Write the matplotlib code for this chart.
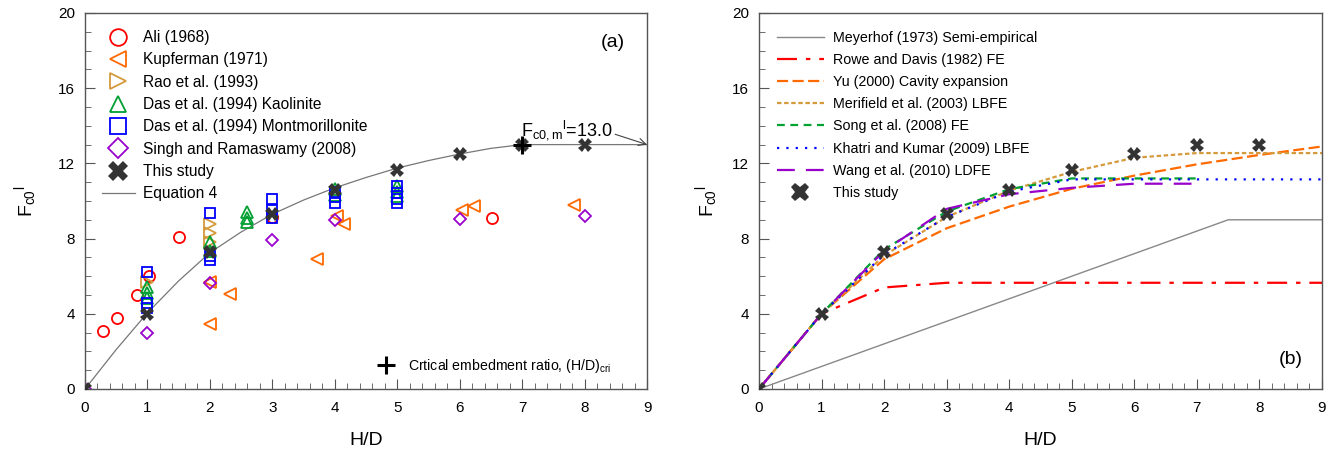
import matplotlib
matplotlib.use("Agg")
import matplotlib.pyplot as plt
from matplotlib.ticker import MultipleLocator
from matplotlib.lines import Line2D

plt.rcParams['font.family'] = ['Liberation Sans', 'DejaVu Sans']
plt.rcParams['mathtext.fontset'] = 'custom'
plt.rcParams['mathtext.rm'] = 'Liberation Sans'
plt.rcParams['mathtext.it'] = 'Liberation Sans'

# ---------------- data: panel (a) ----------------
ali_x = [0.29, 0.51, 0.83, 1.03, 1.51, 3.0, 6.52]
ali_y = [3.08, 3.8, 5.0, 6.0, 8.07, 9.16, 9.08]

kup_x = [2.0, 2.0, 2.32, 3.72, 4.03, 4.14, 6.04, 6.23, 7.83]
kup_y = [3.45, 5.7, 5.07, 6.9, 9.2, 8.76, 9.5, 9.73, 9.79]

rao_x = [1.0, 2.0, 2.0, 2.0]
rao_y = [5.7, 8.8, 8.3, 7.8]

dask_x = [1, 1, 1, 2, 2, 2.6, 2.6, 2.6, 4, 4, 5, 5, 5]
dask_y = [5.4, 5.1, 4.85, 7.8, 7.35, 9.4, 9.1, 8.9, 10.65, 10.3, 10.8, 10.5, 10.25]

dasm_x = [1, 1, 1, 2, 2, 2, 3, 3, 3, 4, 4, 4, 5, 5, 5, 5]
dasm_y = [6.2, 4.6, 4.3, 9.38, 7.1, 6.85, 10.1, 9.5, 9.1, 10.5, 10.2, 9.9, 10.8, 10.4, 10.1, 9.9]

singh_x = [0, 1, 2, 3, 4, 6, 8]
singh_y = [0, 3.0, 5.65, 7.95, 8.97, 9.05, 9.2]

study_x = [0, 1, 2, 3, 4, 5, 6, 7, 8]
study_y = [0, 4.0, 7.3, 9.3, 10.6, 11.65, 12.5, 13.0, 13.0]

eq4_x = [0, 0.5, 1, 1.5, 2, 2.5, 3, 3.5, 4, 4.5, 5, 5.5, 6, 6.5, 7, 8, 9]
eq4_y = [0, 2.1, 4.05, 5.75, 7.25, 8.35, 9.3, 10.05, 10.7, 11.25, 11.75, 12.15, 12.5, 12.8, 13.0, 13.0, 13.0]

crit_x = [7]
crit_y = [13.0]

# ---------------- data: panel (b) ----------------
hd = [0, 1, 2, 3, 4, 5, 6, 7, 8, 9]
meyer_x = [0, 7.5, 9]
meyer_y = [0, 9.0, 9.0]
rowe_y = [0, 4.0, 5.4, 5.65, 5.65, 5.65, 5.65, 5.65, 5.65, 5.65]
yu_y = [0, 4.0, 6.9, 8.55, 9.7, 10.65, 11.35, 11.95, 12.45, 12.9]
meri_y = [0, 4.0, 7.1, 9.15, 10.55, 11.55, 12.3, 12.55, 12.55, 12.55]
song_x = [0, 1, 2, 3, 4, 5, 6, 7]
song_y = [0, 4.0, 7.42, 9.44, 10.63, 11.2, 11.2, 11.2]
khatri_y = [0, 4.0, 7.15, 9.15, 10.5, 11.15, 11.15, 11.15, 11.15, 11.15]
wang_x = [0, 1, 2, 3, 4, 5, 6, 7]
wang_y = [0, 4.0, 7.35, 9.58, 10.36, 10.7, 10.92, 10.92]

W, H = 1338, 468
fig = plt.figure(figsize=(W / 100, H / 100), dpi=100)
axA = fig.add_axes([85 / W, 1 - 389 / H, 562 / W, 376 / H])
axB = fig.add_axes([759 / W, 1 - 389 / H, 563 / W, 376 / H])

def style(ax, ylabelpad):
    ax.set_xlim(0, 9)
    ax.set_ylim(0, 20)
    ax.xaxis.set_major_locator(MultipleLocator(1))
    ax.xaxis.set_minor_locator(MultipleLocator(0.2))
    ax.yaxis.set_major_locator(MultipleLocator(4))
    ax.yaxis.set_minor_locator(MultipleLocator(1))
    ax.tick_params(which='both', direction='in', top=False, right=False,
                   labelsize=11, color='#555555')
    ax.tick_params(which='major', length=7)
    ax.tick_params(axis='x', which='major', pad=9)
    ax.tick_params(axis='y', which='major', pad=7)
    ax.tick_params(which='minor', length=4)
    for s in ax.spines.values():
        s.set_color('#555555')
        s.set_linewidth(1.0)
    ax.set_xlabel('H/D', fontsize=14, labelpad=12)
    ax.set_ylabel(r'F$_{\mathrm{c0}}$$^{\mathrm{l}}$', fontsize=14, labelpad=ylabelpad)

style(axA, 14)
style(axB, 9)

# ---------- panel (a) ----------
ms = 8
mk = dict(linestyle='none', markerfacecolor='none', markeredgewidth=1.3, markersize=ms)
axA.plot(eq4_x, eq4_y, color='#777777', lw=0.9, zorder=2)
h_ali, = axA.plot(ali_x, ali_y, marker='o', color='#ff0000', **mk)
h_kup, = axA.plot(kup_x, kup_y, marker='<', color='#ff6a00', **mk)
h_rao, = axA.plot(rao_x, rao_y, marker='>', color='#d49a3c', **mk)
h_dk, = axA.plot(dask_x, dask_y, marker='^', color='#00a033', **mk)
h_dm, = axA.plot(dasm_x, dasm_y, marker='s', color='#0000ff',
                 linestyle='none', markerfacecolor='none', markeredgewidth=1.3, markersize=7.5)
h_si, = axA.plot(singh_x, singh_y, marker='D', color='#9900cc',
                 linestyle='none', markerfacecolor='none', markeredgewidth=1.3, markersize=6.5)
h_st, = axA.plot(study_x, study_y, marker='X', color='#333333', linestyle='none',
                 markersize=10, markeredgewidth=0, zorder=5)
h_cr, = axA.plot(crit_x, crit_y, marker='+', color='black', linestyle='none',
                 markersize=13, markeredgewidth=2.2, zorder=6)
h_eq = Line2D([], [], color='#777777', lw=0.9)

legA = axA.legend([h_ali, h_kup, h_rao, h_dk, h_dm, h_si, h_st, h_eq],
                  ['Ali (1968)', 'Kupferman (1971)', 'Rao et al. (1993)',
                   'Das et al. (1994) Kaolinite', 'Das et al. (1994) Montmorillonite',
                   'Singh and Ramaswamy (2008)', 'This study', 'Equation 4'],
                  loc='upper left', bbox_to_anchor=(0.0, 1.0), frameon=False,
                  fontsize=11.2, markerscale=1.5, handlelength=2.1,
                  labelspacing=0.47, handletextpad=0.55, borderaxespad=0.7)
axA.add_artist(legA)
axA.legend([h_cr], [r'Crtical embedment ratio, (H/D)$_{\mathrm{cri}}$'],
           loc='center right', bbox_to_anchor=(0.9475, 0.061), frameon=False,
           fontsize=10.2, handletextpad=0.6, borderaxespad=0)

axA.annotate(r'F$_{\mathrm{c0,m}}$$^{\mathrm{l}}$=13.0', xy=(9, 13.0), xytext=(6.98, 13.15),
             fontsize=13, ha='left', va='bottom',
             arrowprops=dict(arrowstyle='->', color='#444444', lw=0.8,
                             shrinkA=0, shrinkB=0, relpos=(1.0, 0.35)))
axA.text(0.96, 0.945, '(a)', transform=axA.transAxes, fontsize=14, ha='right', va='top')

# ---------- panel (b) ----------
axB.plot(meyer_x, meyer_y, color='#888888', lw=1.0, label='Meyerhof (1973) Semi-empirical')
axB.plot(hd, rowe_y, color='#ff0000', lw=1.6, dashes=(9, 4, 2, 4), label='Rowe and Davis (1982) FE')
axB.plot(hd, yu_y, color='#ff6a00', lw=1.6, dashes=(5, 2), label='Yu (2000) Cavity expansion')
axB.plot(hd, meri_y, color='#d49a3c', lw=1.6, dashes=(2, 1.2), label='Merifield et al. (2003) LBFE')
axB.plot(song_x, song_y, color='#00a033', lw=1.6, dashes=(3.5, 2.5), label='Song et al. (2008) FE')
axB.plot(hd, khatri_y, color='#0000ff', lw=1.6, dashes=(1, 3.2), label='Khatri and Kumar (2009) LBFE')
axB.plot(wang_x, wang_y, color='#9900cc', lw=1.6, dashes=(8, 5), label='Wang et al. (2010) LDFE')
axB.plot(study_x, study_y, marker='X', color='#333333', linestyle='none',
         markersize=10, markeredgewidth=0, label='This study', zorder=5)
axB.legend(loc='upper left', bbox_to_anchor=(0.0, 1.0), frameon=False,
           fontsize=10.3, markerscale=1.35, handlelength=3.3,
           labelspacing=0.57, handletextpad=0.6, borderaxespad=0.85)
axB.text(0.965, 0.055, '(b)', transform=axB.transAxes, fontsize=14, ha='right', va='bottom')

fig.savefig('out.png', dpi=100)
